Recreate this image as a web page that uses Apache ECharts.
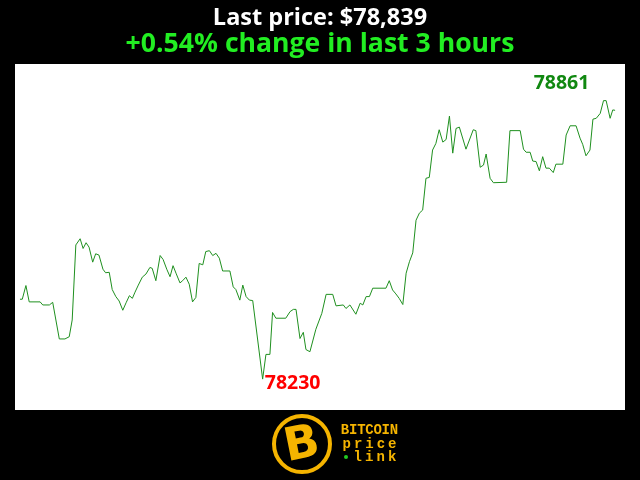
<!DOCTYPE html>
<html>
<head>
<meta charset="utf-8">
<script src="https://cdn.jsdelivr.net/npm/echarts@6/dist/echarts.min.js"></script>
<style>
html,body{margin:0;padding:0;background:#000;}
#chart{width:640px;height:480px;}
</style>
</head>
<body>
<div id="chart"></div>
<script>
// minutes since start (3 hour window)
const minutes = [0,0.7,1.8,2.8,6.1,6.9,8.9,9.9,11.9,13.6,14.9,15.8,16.9,18.2,19.1,20.0,20.9,22.0,22.9,23.9,25.1,25.9,27.0,27.9,29.0,30.0,31.1,32.1,33.1,34.0,34.8,
35.8,37.0,38.1,39.3,40.0,41.1,42.4,43.3,44.4,45.4,46.3,47.2,48.4,49.2,50.2,51.2,52.2,53.2,54.2,55.3,56.2,57.3,58.3,59.3,60.3,61.3,63.5,64.5,65.3,66.5,67.4,68.4,69.4,70.4,
73.4,74.4,75.6,76.4,77.4,80.4,81.7,82.7,83.5,84.7,85.7,86.5,87.7,89.5,91.3,92.6,94.6,95.6,97.8,98.6,99.8,101.6,102.9,103.7,104.7,105.7,106.7,
110.7,111.7,112.7,113.7,114.7,115.8,116.8,117.8,118.8,119.8,120.8,121.8,122.8,123.8,124.8,125.8,126.8,127.9,128.9,129.9,130.9,131.9,132.9,134.9,137.1,137.9,139.2,140.2,141.0,142.2,143.2,
147.2,148.2,151.3,152.3,153.1,154.3,155.1,156.1,157.1,158.1,159.1,160.1,161.3,162.1,164.2,165.2,166.4,168.2,169.4,170.2,171.2,172.4,173.3,174.3,175.5,176.5,177.3,178.5,179.3,180];
// BTC price (USD)
const prices = [78411,78411,78442,78405,78405,78398,78398,78404,78321,78321,78326,78364,78534,78548,78526,78539,78529,78495,78514,78511,78479,78471,78472,78433,78417,78407,78386,78403,78419,78413,78427,
78443,78461,78468,78483,78481,78453,78510,78501,78479,78462,78487,78470,78448,78453,78461,78445,78405,78415,78492,78489,78519,78521,78510,78515,78504,78475,78475,78439,78433,78409,78443,78417,78409,78408,
78230,78286,78286,78381,78368,78368,78383,78388,78388,78322,78336,78297,78292,78343,78379,78422,78422,78396,78398,78390,78398,78377,78402,78398,78417,78417,78436,
78436,78453,78432,78423,78413,78399,78470,78496,78516,78590,78606,78613,78685,78687,78749,78764,78795,78767,78773,78826,78742,78798,78801,78751,78795,78793,78710,78715,78740,78685,78675,
78676,78793,78793,78751,78744,78744,78724,78723,78702,78734,78708,78708,78698,78717,78717,78783,78804,78804,78776,78762,78736,78749,78819,78821,78832,78861,78861,78821,78840,78839];

const titleText = 'Last price: $78,839';
const subText = '+0.54% change in last 3 hours';
const logoLines = ['BITCOIN', 'price', 'link'];

const seriesData = minutes.map((m, i) => [m, prices[i]]);
let maxI = 0, minI = 0;
prices.forEach((p, i) => { if (p > prices[maxI]) maxI = i; if (p < prices[minI]) minI = i; });

// logo text, spaced letter by letter
const gold = '#f5b400';
const logoGraphics = [
  {type: 'circle', shape: {cx: 302, cy: 444, r: 28}, style: {fill: '#000', stroke: gold, lineWidth: 4}},
  {type: 'text', x: 302, y: 446, rotation: 0.2,
   style: {text: 'B', fill: gold, font: 'bold 46px "DejaVu Sans"', align: 'center', verticalAlign: 'middle'}},
  {type: 'circle', shape: {cx: 346, cy: 457, r: 2}, style: {fill: '#22cc22'}}
];
const lineSpecs = [
  {x0: 341, x1: 398, y: 430},
  {x0: 341, x1: 398, y: 444},
  {x0: 352, x1: 398, y: 457}
];
logoLines.forEach((word, k) => {
  const s = lineSpecs[k];
  const step = word.length > 1 ? (s.x1 - s.x0) / word.length : 0;
  for (let i = 0; i < word.length; i++) {
    logoGraphics.push({type: 'text', x: s.x0 + step * (i + 0.5), y: s.y,
      style: {text: word[i], fill: gold, font: 'bold 14px "Liberation Mono"', align: 'center', verticalAlign: 'middle'}});
  }
});

const chart = echarts.init(document.getElementById('chart'), null, {renderer: 'canvas'});
chart.setOption({
  backgroundColor: '#000',
  animation: false,
  title: [
    {text: titleText, left: 'center', top: 1,
     textStyle: {color: '#fff', fontSize: 23.5, fontWeight: 'bold', fontFamily: 'Open Sans'}},
    {text: subText, left: 'center', top: 26,
     textStyle: {color: '#22ee22', fontSize: 26.6, fontWeight: 'bold', fontFamily: 'Open Sans'}}
  ],
  grid: {left: 15, right: 15, top: 64, bottom: 70, show: true, backgroundColor: '#fff', borderWidth: 0},
  xAxis: {type: 'value', min: -1.5, max: 183, show: false},
  yAxis: {type: 'value', min: 78160, max: 78944, show: false, splitLine: {show: false}},
  series: [{
    type: 'line',
    data: seriesData,
    symbol: 'none',
    lineStyle: {color: '#1f901f', width: 1},
    markPoint: {
      symbol: 'circle', symbolSize: 0,
      data: [
        {coord: seriesData[maxI], value: prices[maxI],
         label: {show: true, formatter: String(prices[maxI]), offset: [-42, -17], color: '#118811',
                 fontSize: 19.5, fontWeight: 'bold', fontFamily: 'Open Sans'}},
        {coord: seriesData[minI], value: prices[minI],
         label: {show: true, formatter: String(prices[minI]), offset: [30, 4], color: '#ff0000',
                 fontSize: 19.5, fontWeight: 'bold', fontFamily: 'Open Sans'}}
      ]
    }
  }],
  graphic: logoGraphics
});
</script>
</body>
</html>
